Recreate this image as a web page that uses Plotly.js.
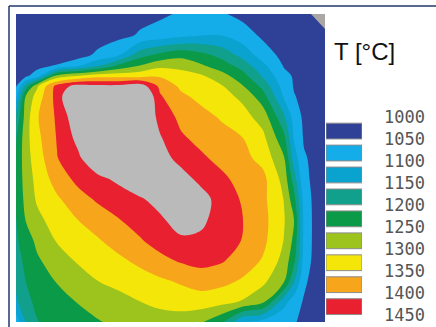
<!DOCTYPE html>
<html>
<head>
<meta charset="utf-8">
<script src="https://cdn.plot.ly/plotly-3.0.1.min.js"></script>
<style>
  html, body { margin: 0; padding: 0; background: #ffffff; }
  #chart { width: 436px; height: 327px; }
</style>
</head>
<body>
<div id="chart"></div>
<script>
// Section grid positions (horizontal / vertical, plot units)
const xPos = [0, 10, 21, 41, 62, 82, 103, 124, 144, 165, 185, 206, 227, 247, 268, 278, 288, 298, 309];
const yPos = [0, 21, 41, 52, 62, 72, 82, 103, 124, 144, 165, 185, 206, 227, 247, 268, 288, 308];

// Temperature field, one row per vertical position (°C)
const tempRows = [
  [1000,1000,1000,1005,1010,1015,1025,1035,1042,1055,1065,1055,1035,1020,1005,1002,1000,1000,1000],
  [ 990, 992, 995,1000,1008,1020,1035,1055,1069,1084,1097,1098,1073,1040,1025,1020,1015,1010,1005],
  [1000,1002,1005,1012,1025,1063,1097,1180,1213,1235,1215,1183,1132,1075,1035,1032,1028,1025,1020],
  [1020,1028,1036,1056,1098,1148,1215,1255,1288,1285,1258,1225,1180,1113,1047,1040,1033,1028,1024],
  [1030,1042,1073,1270,1305,1333,1333,1333,1345,1322,1307,1269,1218,1145,1062,1046,1037,1030,1025],
  [1045,1170,1290,1418,1470,1462,1462,1480,1388,1340,1322,1303,1252,1185,1077,1047,1040,1032,1028],
  [1080,1256,1320,1420,1540,1550,1550,1540,1405,1359,1336,1316,1288,1219,1093,1052,1040,1035,1028],
  [1160,1275,1345,1408,1490,1540,1540,1515,1433,1387,1367,1344,1318,1279,1158,1079,1040,1036,1030],
  [1195,1283,1336,1403,1465,1530,1540,1530,1455,1407,1386,1368,1350,1312,1214,1094,1045,1036,1030],
  [1205,1281,1325,1398,1440,1500,1530,1530,1470,1434,1408,1385,1364,1334,1254,1125,1055,1040,1035],
  [1210,1273,1315,1371,1414,1436,1462,1500,1510,1470,1437,1410,1382,1364,1281,1175,1060,1042,1035],
  [1205,1267,1306,1343,1380,1408,1424,1444,1470,1500,1470,1428,1394,1362,1298,1217,1079,1040,1030],
  [1198,1253,1287,1322,1350,1373,1398,1420,1441,1475,1460,1428,1400,1366,1304,1250,1088,1040,1028],
  [1192,1225,1261,1303,1325,1345,1370,1395,1420,1440,1440,1425,1397,1362,1298,1237,1086,1040,1028],
  [1180,1212,1242,1277,1305,1322,1340,1361,1385,1405,1415,1404,1376,1345,1282,1212,1079,1038,1025],
  [1160,1200,1219,1252,1276,1299,1313,1327,1340,1355,1370,1362,1342,1310,1250,1150,1059,1032,1020],
  [1140,1190,1208,1231,1252,1267,1283,1299,1312,1322,1325,1315,1294,1257,1117,1073,1045,1028,1015],
  [1070,1155,1198,1215,1231,1247,1260,1270,1278,1275,1256,1207,1098,1081,1062,1053,1042,1028,1015]
];

// Isotherm levels shown in the scale (°C)
const levels = [1000, 1050, 1100, 1150, 1200, 1250, 1300, 1350, 1400, 1450];
// Fill colour of each temperature band, coldest first; last entry is above 1450
const bandColors = ['#2f4196', '#14adea', '#0aa3cf', '#10a08c', '#0b9a48',
                    '#9cc41c', '#f5e60a', '#f7a51b', '#e8202f', '#bababa'];

const W = 436, H = 327;
const px = v => v / W;
const py = v => 1 - v / H;

// stepped colour scale: one flat step per band
const nBands = bandColors.length;
const colorscale = [];
bandColors.forEach((c, i) => {
  colorscale.push([i / nBands, c]);
  colorscale.push([(i + 1) / nBands, c]);
});

const field = {
  type: 'contour',
  x: xPos,
  y: yPos,
  z: tempRows,
  zmin: levels[0],
  zmax: levels[levels.length - 1] + 50,
  autocontour: false,
  contours: { start: 1050, end: 1450, size: 50, coloring: 'fill', showlines: false },
  line: { width: 0, smoothing: 1 },
  colorscale: colorscale,
  showscale: false,
  hoverinfo: 'skip'
};

// scale boxes: one per band between consecutive levels
const scaleMids = levels.slice(0, -1).map((v, i) => (v + levels[i + 1]) / 2);
const scaleBoxes = {
  type: 'bar',
  orientation: 'h',
  xaxis: 'x2',
  yaxis: 'y2',
  y: scaleMids,
  x: scaleMids.map(() => 1),
  width: 36,
  marker: {
    color: bandColors.slice(0, scaleMids.length),
    line: { color: '#8c8c8c', width: 1 }
  },
  hoverinfo: 'skip'
};

const layout = {
  width: W,
  height: H,
  margin: { l: 0, r: 0, t: 0, b: 0 },
  paper_bgcolor: '#ffffff',
  plot_bgcolor: '#ffffff',
  showlegend: false,
  xaxis: { domain: [px(16), px(325)], range: [0, 309], visible: false, fixedrange: true },
  yaxis: { domain: [py(322), py(14)], range: [308, 0], visible: false, fixedrange: true },
  xaxis2: { domain: [px(326), px(362)], range: [0, 1], visible: false, anchor: 'y2' },
  yaxis2: {
    domain: [py(322), py(115.7)],
    range: [1460, 990],
    anchor: 'free',
    position: px(383),
    side: 'right',
    showgrid: false,
    zeroline: false,
    showline: false,
    ticks: '',
    tickmode: 'array',
    tickvals: levels,
    ticktext: levels.map(String),
    ticklabelshift: 3,
    ticklabeloverflow: 'allow',
    tickfont: { family: 'DejaVu Sans Mono, monospace', size: 17, color: '#555555' }
  },
  annotations: [{
    xref: 'paper', yref: 'paper',
    x: px(332), y: py(52),
    xanchor: 'left', yanchor: 'middle',
    text: 'T [°C]',
    showarrow: false,
    font: { family: 'Liberation Sans, Arial, sans-serif', size: 24, color: '#111111' }
  }],
  shapes: [
    { type: 'line', xref: 'paper', yref: 'paper', x0: px(9), x1: 1, y0: py(6), y1: py(6),
      line: { color: '#203a6a', width: 1.5 } },
    { type: 'line', xref: 'paper', yref: 'paper', x0: px(9), x1: px(9), y0: py(6), y1: 0,
      line: { color: '#203a6a', width: 1.5 } },
    { type: 'path', xref: 'paper', yref: 'paper',
      path: `M ${px(311)} ${py(14)} L ${px(325)} ${py(14)} L ${px(325)} ${py(29)} Z`,
      fillcolor: '#aaa7a5', line: { width: 0 } }
  ]
};

Plotly.newPlot('chart', [field, scaleBoxes], layout, { staticPlot: true, displayModeBar: false });
</script>
</body>
</html>
